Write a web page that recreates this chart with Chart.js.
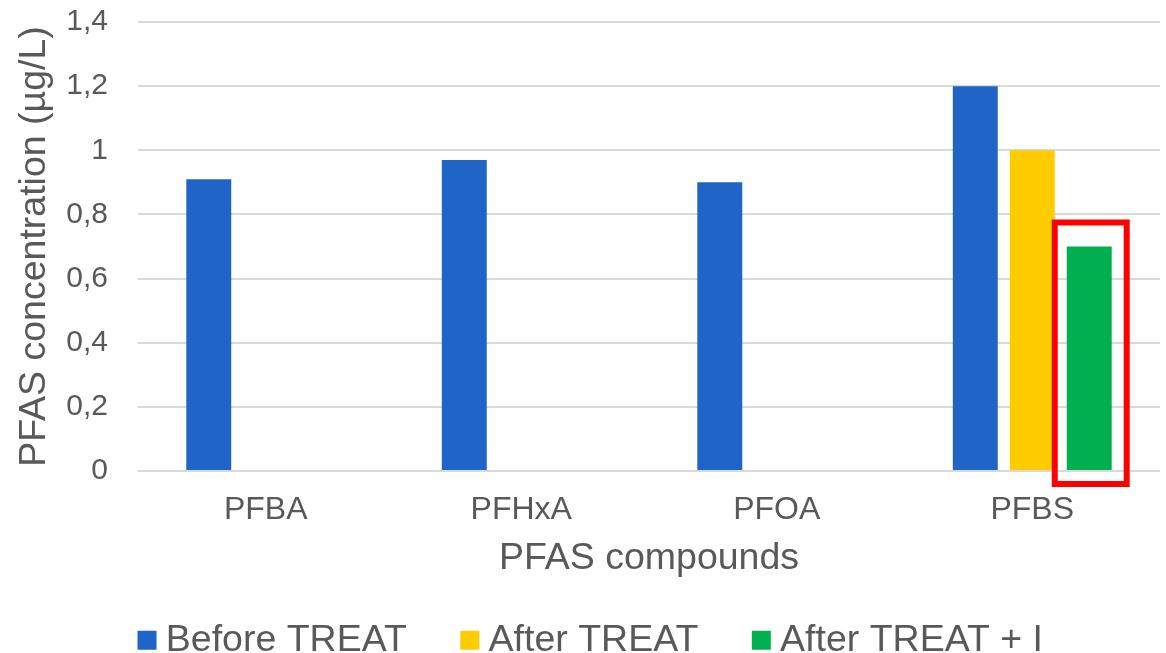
<!DOCTYPE html>
<html>
<head>
<meta charset="utf-8">
<script src="https://cdn.jsdelivr.net/npm/chart.js@4/dist/chart.umd.min.js"></script>
<style>
  html, body { margin: 0; padding: 0; background: #ffffff; }
  #wrap { width: 1166px; height: 653px; }
</style>
</head>
<body>
<div id="wrap"><canvas id="c" width="1166" height="653"></canvas></div>
<script>
const categories = ['PFBA', 'PFHxA', 'PFOA', 'PFBS'];
const seriesNames = ['Before TREAT', 'After TREAT', 'After TREAT + I'];
const beforeTreat = [0.91, 0.97, 0.90, 1.20];
const afterTreat = [null, null, null, 1.00];
const afterTreatI = [null, null, null, 0.70];
const seriesColors = ['#2064C8', '#FFCC00', '#00B050'];
const yAxisTitle = 'PFAS concentration (µg/L)';
const xAxisTitle = 'PFAS compounds';

const FONT = "'Liberation Sans', Arial, Helvetica, sans-serif";
const TEXT = '#595959';
const PAD_LEFT = 30;

// highlight box around the "After TREAT + I" PFBS bar
const highlightPlugin = {
  id: 'highlight',
  afterDatasetsDraw(chart) {
    const meta = chart.getDatasetMeta(2);
    const bar = meta.data[3];
    if (!bar) return;
    const p = bar.getProps(['x', 'y', 'base', 'width'], true);
    const ctx = chart.ctx;
    ctx.save();
    ctx.strokeStyle = '#FF0000';
    ctx.lineWidth = 6;
    const l = p.x - p.width / 2 - 12;
    const r = p.x + p.width / 2 + 15;
    const t = p.y - 24;
    const b = p.base + 14;
    ctx.strokeRect(l, t, r - l, b - t);
    ctx.restore();
  }
};

new Chart(document.getElementById('c'), {
  type: 'bar',
  data: {
    labels: categories,
    datasets: [
      { label: seriesNames[0], data: beforeTreat, backgroundColor: seriesColors[0], pointStyle: 'rect' },
      { label: seriesNames[1], data: afterTreat, backgroundColor: seriesColors[1], pointStyle: 'rect' },
      { label: seriesNames[2], data: afterTreatI, backgroundColor: seriesColors[2], pointStyle: 'rect' }
    ]
  },
  options: {
    responsive: false,
    animation: false,
    devicePixelRatio: 1,
    layout: { padding: { top: 22, right: 6, left: PAD_LEFT, bottom: -16 } },
    datasets: { bar: { categoryPercentage: 0.669, barPercentage: 0.789 } },
    plugins: {
      tooltip: { enabled: false },
      legend: {
        position: 'bottom',
        labels: {
          usePointStyle: true,
          pointStyle: 'rect',
          boxWidth: 0.01, boxHeight: 19, padding: 63,
          color: TEXT,
          font: { family: FONT, size: 37.5 }
        }
      }
    },
    scales: {
      x: {
        grid: { display: false, drawTicks: false },
        border: { display: false },
        ticks: { color: TEXT, font: { family: FONT, size: 32 }, padding: 20 },
        title: {
          display: true, text: xAxisTitle, color: TEXT,
          font: { family: FONT, size: 37.5 },
          padding: { top: 0, bottom: -23 }
        },
        afterFit(scale) { scale.height = 87.5; }
      },
      y: {
        min: 0, max: 1.4,
        grid: { color: '#D9D9D9', lineWidth: 2, drawTicks: false },
        border: { display: false },
        ticks: {
          stepSize: 0.2, color: TEXT, padding: 30,
          font: { family: FONT, size: 30 },
          callback: (v) => String(+Number(v).toFixed(1)).replace('.', ',')
        },
        title: {
          display: true, text: yAxisTitle, color: TEXT,
          font: { family: FONT, size: 37.5 },
          padding: { top: -17.5, bottom: 0 }
        },
        afterFit(scale) {
          scale.width = 138 - PAD_LEFT;
          scale.paddingTop = 0;
          scale.paddingBottom = 0;
        }
      }
    }
  },
  plugins: [highlightPlugin]
});
</script>
</body>
</html>
